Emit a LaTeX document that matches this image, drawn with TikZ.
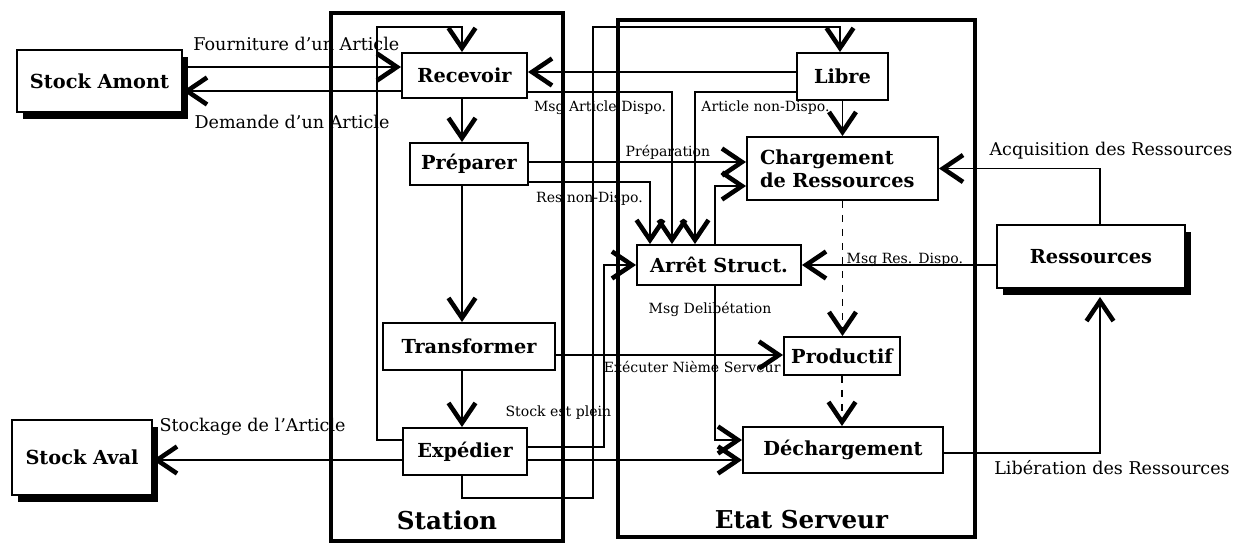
\documentclass[tikz,border=0pt]{standalone}
\usepackage{fontspec}
\setmainfont{DejaVu Serif}
\usetikzlibrary{arrows.meta,calc,positioning,shadows}
\tikzset{
  box/.style={
    draw,
    fill=white,
    line width=1.1pt,
    inner sep=0pt,
    font=\bfseries\fontsize{11}{13}\selectfont,
    align=center
  },
  stock/.style={
    box,
    drop shadow={shadow xshift=1.2mm,shadow yshift=-1.3mm,fill=black,opacity=1}
  },
  frame/.style={
    draw,
    line width=2.4pt,
    inner sep=0pt
  },
  title/.style={
    font=\bfseries\fontsize{14}{16}\selectfont,
    inner sep=0pt
  },
  flow/.style={
    -{Straight Barb[length=4mm,width=5.4mm,line width'=2.6pt]},
    line width=0.9pt
  },
  lbl/.style={
    font=\fontsize{10}{12}\selectfont,
    inner sep=1pt
  },
  tag/.style={
    font=\fontsize{8}{9.5}\selectfont,
    inner sep=1pt
  }
}

\begin{document}
\begin{tikzpicture}[x=0.2mm,y=-0.2mm]
  \useasboundingbox (0,0) rectangle (1236,543);

  % Two containers, each titled at its foot.
  \node[frame,minimum width=46.4mm,minimum height=105.6mm] (station) at (447,277) {};
  \node[frame,line width=2.8pt,minimum width=71.4mm,minimum height=103.4mm]
    (etat) at (796.5,278.5) {};
  \node[title,above=2.6mm] (station-t) at (station.south) {Station};
  \node[title,above=2mm,xshift=1mm] (etat-t) at (etat.south) {Etat Serveur};

  % Outside partners.
  \node[stock,minimum width=33mm,minimum height=12.4mm] (amont) at (99.5,81) {Stock Amont};
  \node[stock,minimum width=28mm,minimum height=15mm] (aval) at (82,457.5) {Stock Aval};
  \node[stock,minimum width=37.6mm,minimum height=12.6mm] (ress) at (1091,256.5) {Ressources};

  % Station steps.
  \node[box,minimum width=25mm,minimum height=9mm] (rec) at (464.5,75.5) {Recevoir};
  \node[box,minimum width=23.6mm,minimum height=8.4mm] (prep) at (469,164) {Préparer};
  \node[box,minimum width=34.4mm,minimum height=9.4mm] (trans) at (469,346.5) {Transformer};
  \node[box,minimum width=24.8mm,minimum height=9.4mm] (exp) at (465,451.5) {Expédier};

  % Server states.
  \node[box,minimum width=18.2mm,minimum height=9.4mm] (libre) at (842.5,76.5) {Libre};
  \node[box,align=left,text width=33mm,inner xsep=2.6mm,minimum height=12.6mm]
    (charg) at (842.5,168.5) {Chargement\\de Ressources};
  \node[box,minimum width=32.8mm,minimum height=8mm] (arret) at (719,265) {Arrêt Struct.};
  \node[box,minimum width=23.2mm,minimum height=7.6mm] (prod) at (842,356) {Productif};
  \node[box,minimum width=40mm,minimum height=9.2mm] (dech) at (843,450) {Déchargement};

  % Exchanges with the stocks.
  \draw[flow] ($(amont.east)+(0,-14)$) --
    node[lbl,above=2.8mm,pos=0.52] {Fourniture d'un Article} ($(rec.west)+(0,-8.5)$);
  \draw[flow] ($(rec.west)+(0,15.5)$) --
    node[lbl,below=4.4mm,pos=0.5] {Demande d'un Article} ($(amont.east)+(0,10)$);
  \draw[flow] ($(exp.west)+(0,8.5)$) --
    node[lbl,above=4.4mm,pos=0.6] {Stockage de l'Article} ($(aval.east)+(0,2.5)$);

  % Station chain and its return loop.
  \draw[flow] ($(rec.south)+(-2.5,0)$) -- ($(prep.north)+(-7,0)$);
  \draw[flow] ($(prep.south)+(-7,0)$) -- ($(trans.north)+(-7,0)$);
  \draw[flow] ($(trans.south)+(-7,0)$) -- ($(exp.north)+(-3,0)$);
  \draw[flow] ($(exp.west)+(0,-11.5)$) -| ($(rec.north)+(-87.5,-25)$) -| ($(rec.north)+(-2.5,0)$);

  % Messages between station and server.
  \draw[flow] ($(libre.west)+(0,-4.5)$) -- ($(rec.east)+(0,-3.5)$);
  \draw[flow] ($(rec.east)+(0,16.5)$) -|
    node[tag,below=1.2mm,pos=0.25] {Msg Article Dispo.} ($(arret.north)+(-47,0)$);
  \draw[flow] ($(libre.west)+(0,15.5)$) -|
    node[tag,below=1.2mm,pos=0.25,xshift=4mm] {Article non-Dispo.} ($(arret.north)+(-24,0)$);
  \draw[flow] ($(prep.east)+(0,-2)$) --
    node[tag,above=0pt,pos=0.64] {Préparation} ($(charg.west)+(0,-6.5)$);
  \draw[flow] ($(prep.east)+(0,18)$) -|
    node[tag,below=1.6mm,pos=0.25] {Res non-Dispo.} ($(arret.north)+(-69,0)$);
  \draw[flow] ($(trans.east)+(0,8.5)$) --
    node[tag,below=0.8mm,pos=0.6] {Exécuter Nième Serveur} ($(prod.west)+(0,-1)$);
  \draw[flow] ($(exp.east)+(0,-4.5)$) -|
    node[tag,above=5mm,pos=0.2] {Stock est plein} ($(arret.west)+(-32,0)$) -- (arret.west);
  \draw[flow] ($(exp.east)+(0,8.5)$) -- ($(dech.west)+(0,10)$);
  \draw[flow] ($(exp.south)+(-3,0)$) -- ++(0,22) -| ($(libre.north)+(-249.5,-25)$)
    -| ($(libre.north)+(-2.5,0)$);

  % Server life cycle.
  \draw[flow] (libre.south) -- (charg.north);
  \draw[flow,dash pattern=on 1.4mm off 1.4mm] (charg.south) -- (charg.south |- prod.north);
  \draw[flow,dash pattern=on 1.4mm off 1.4mm] (prod.south) -- (prod.south |- dech.north);
  \draw[flow] ($(arret.north)+(-4,0)$) |- ($(charg.west)+(0,17.5)$);
  \draw[flow] ($(arret.south)+(-4,0)$) |- ($(dech.west)+(0,-10)$);
  \node[tag] (delib) at (710,309) {Msg Delibétation};

  % Resource exchanges.
  \draw[flow] ($(ress.west)+(0,8.5)$) --
    node[tag,anchor=base,pos=0.47,yshift=0.4mm] {Msg Res. Dispo.} (arret.east);
  \draw[flow] ($(ress.north)+(9,0)$) |-
    node[lbl,above=1.3mm,pos=0.5,xshift=2.2mm] {Acquisition des Ressources} (charg.east);
  \draw[flow] ($(dech.east)+(0,3)$) -|
    node[lbl,below=1mm,pos=0.5,xshift=2.4mm] {Libération des Ressources} ($(ress.south)+(9,8)$);
\end{tikzpicture}
\end{document}
